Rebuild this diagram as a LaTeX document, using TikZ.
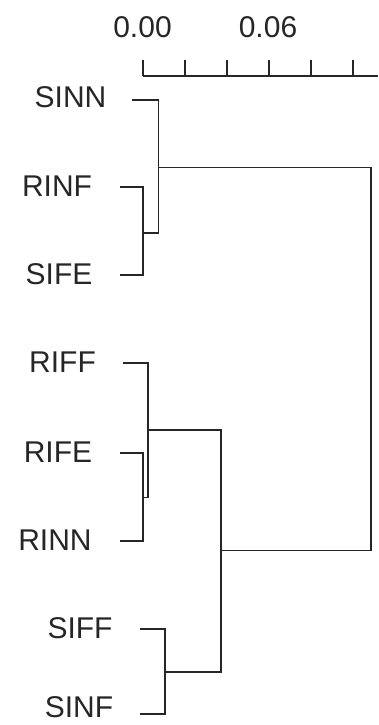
\documentclass[tikz,border=0pt]{standalone}
\usepackage{fontspec}
\setmainfont{Liberation Sans}
\usetikzlibrary{calc}
\begin{document}
\begin{tikzpicture}[x=1pt,y=-1pt,
  lbl/.style={inner sep=0pt,font=\fontsize{30}{32}\selectfont,text=black!85},
  dend/.style={line width=1.8pt,draw=black!85},
  axis/.style={line width=1.8pt,draw=black!85}]
\useasboundingbox (0,0) rectangle (378,725);
\fill[white] (0,0) rectangle (378,725);
% axis
\node[lbl] (t0) at (142.5,27) {0.00};
\node[lbl] (t6) at (268,27) {0.06};
\coordinate (a0) at (142.7,75.7);
\coordinate (a1) at (378,75.7);
\draw[axis] (a0) -- (a1);
\foreach \k in {0,...,5}{
  \draw[axis] ($(a0)+(42.1*\k,0)$) -- ++(0,-16);
}
% leaves
\node[lbl] (sinn) at (70.5,97) {SINN};
\node[lbl] (rinf) at (57,186) {RINF};
\node[lbl] (sife) at (59,274) {SIFE};
\node[lbl] (riff) at (62.5,362) {RIFF};
\node[lbl] (rife) at (58,452) {RIFE};
\node[lbl] (rinn) at (55,540) {RINN};
\node[lbl] (siff) at (80,628) {SIFF};
\node[lbl] (sinf) at (79,707) {SINF};
% line starts
\coordinate (l1) at (132,100);
\coordinate (l2) at (120,187);
\coordinate (l3) at (120,275);
\coordinate (l4) at (123,363);
\coordinate (l5) at (120,453);
\coordinate (l6) at (120,541);
\coordinate (l7) at (140,629);
\coordinate (l8) at (140,714);
% junctions
\coordinate (j23) at (143,233);
\coordinate (j123) at (158.5,167.5);
\coordinate (j56) at (142.7,497.5);
\coordinate (j456) at (148.3,430);
\coordinate (j78) at (165,671.7);
\coordinate (jR) at (220.7,550.5);
\coordinate (jroot) at (371,167.5);
% draw
\draw[dend] (l2) -| (j23) |- (l3);
\draw[dend] (l1) -| (j123 |- j23) -- (j23);
\draw[dend] (l5) -| (j56) |- (l6);
\draw[dend] (l4) -| (j456 |- j56) -- (j56);
\draw[dend] (l7) -| (j78) |- (l8);
\draw[dend] (j456) -| (jR |- j78) -- (j78);
\draw[dend] (j123) -| (jroot |- jR) -- (jR);
\end{tikzpicture}
\end{document}
